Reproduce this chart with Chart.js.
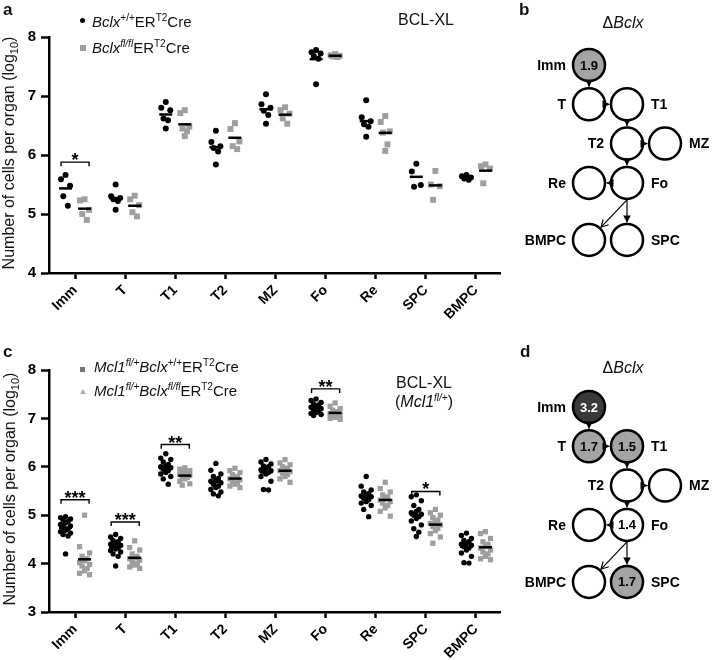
<!DOCTYPE html>
<html><head><meta charset="utf-8">
<script src="https://cdn.jsdelivr.net/npm/chart.js@4.4.1/dist/chart.umd.min.js"></script>
<style>
html,body{margin:0;padding:0;background:#fff;}
#wrap{position:relative;width:714px;height:660px;overflow:hidden;font-family:"Liberation Sans",Arial,sans-serif;color:#111;}
canvas{position:absolute;}
.t{position:absolute;white-space:nowrap;line-height:1;}
.sup{font-size:10px;position:relative;top:-6px;}
.sub{font-size:11px;position:relative;top:4px;}
.lbl{font-weight:bold;font-size:17px;}
.mk{position:absolute;}
</style></head>
<body><div id="wrap">
<canvas id="cA" width="520" height="320" style="left:0;top:0"></canvas>
<canvas id="cC" width="520" height="340" style="left:0;top:320px"></canvas>
<canvas id="cB" width="199" height="318" style="left:515px;top:0"></canvas>
<canvas id="cD" width="199" height="318" style="left:515px;top:342px"></canvas>

<div class="t lbl" style="left:3px;top:1px">a</div>
<div class="t lbl" style="left:519px;top:1px">b</div>
<div class="t lbl" style="left:3px;top:343px">c</div>
<div class="t lbl" style="left:520px;top:343px">d</div>

<div class="t" style="left:9px;top:153px;font-size:16px;transform:translate(-50%,-50%) rotate(-90deg)">Number of cells per organ (log<span class="sub">10</span>)</div>
<div class="t" style="left:10px;top:489px;font-size:16px;transform:translate(-50%,-50%) rotate(-90deg)">Number of cells per organ (log<span class="sub">10</span>)</div>

<div class="mk" style="left:80px;top:18px;width:5px;height:5px;border-radius:50%;background:#000"></div>
<div class="t" style="left:92px;top:14px;font-size:15px"><i>Bclx</i><span class="sup">+/+</span>ER<span class="sup">T2</span>Cre</div>
<div class="mk" style="left:80px;top:45px;width:6px;height:6px;background:#9e9e9e"></div>
<div class="t" style="left:92px;top:40px;font-size:15px"><i>Bclx</i><span class="sup"><i>fl/fl</i></span>ER<span class="sup">T2</span>Cre</div>
<div class="t" style="left:426px;top:12px;font-size:16px;transform:translateX(-50%)">BCL-XL</div>

<div class="mk" style="left:80px;top:367px;width:5px;height:5px;background:#777"></div>
<div class="t" style="left:94px;top:359px;font-size:15px"><i>Mcl1</i><span class="sup"><i>fl/+</i></span><i>Bclx</i><span class="sup">+/+</span>ER<span class="sup">T2</span>Cre</div>
<div class="mk" style="left:80px;top:389px;width:0;height:0;border-left:3px solid transparent;border-right:3px solid transparent;border-bottom:5px solid #b0b0b0"></div>
<div class="t" style="left:94px;top:383px;font-size:15px"><i>Mcl1</i><span class="sup"><i>fl/+</i></span><i>Bclx</i><span class="sup"><i>fl/fl</i></span>ER<span class="sup">T2</span>Cre</div>
<div class="t" style="left:424px;top:375px;font-size:16px;transform:translateX(-50%)">BCL-XL</div>
<div class="t" style="left:424px;top:394px;font-size:16px;transform:translateX(-50%)">(<i>Mcl1</i><span class="sup"><i>fl/+</i></span>)</div>

<div class="t" style="left:623px;top:15px;font-size:16px;transform:translateX(-50%)">&Delta;<i>Bclx</i></div>
<div class="t" style="left:623px;top:360px;font-size:16px;transform:translateX(-50%)">&Delta;<i>Bclx</i></div>
</div>
<script>
// ---------- DATA ----------
const categories = ['Imm','T','T1','T2','MZ','Fo','Re','SPC','BMPC'];
const yTicksA = [4,5,6,7,8];
const yTicksC = [3,4,5,6,7,8];

// panel a: Bclx+/+ ERT2Cre (black dots)
const aControl = [
  [5.66,5.59,5.48,5.30,5.14],
  [5.50,5.30,5.27,5.25,5.22,5.07],
  [6.90,6.80,6.76,6.62,6.59,6.45],
  [6.41,6.22,6.15,6.12,6.06,5.84],
  [7.03,6.86,6.80,6.75,6.68,6.53],
  [7.78,7.74,7.72,7.68,7.63,7.20],
  [6.93,6.64,6.57,6.52,6.48,6.31],
  [5.85,5.72,5.49,5.46],
  [5.66,5.64,5.62,5.60,5.58]
];
// panel a: Bclx fl/fl ERT2Cre (grey squares)
const aDeleted = [
  [5.25,5.23,5.07,5.00,4.90],
  [5.31,5.25,5.15,5.03,4.96],
  [6.76,6.71,6.48,6.45,6.40,6.32],
  [6.54,6.44,6.23,6.15,6.10],
  [6.81,6.76,6.70,6.62,6.53],
  [7.71,7.69,7.68,7.67,7.66],
  [6.66,6.56,6.40,6.38,6.18,6.07],
  [5.73,5.50,5.47,5.24],
  [5.84,5.81,5.77,5.52]
];
// panel c: Mcl1 fl/+ Bclx +/+ (black dots)
const cControl = [
  [4.97,4.95,4.92,4.90,4.87,4.84,4.81,4.78,4.75,4.72,4.69,4.66,4.63,4.60,4.57,4.20],
  [4.60,4.55,4.52,4.48,4.45,4.42,4.40,4.38,4.35,4.33,4.30,4.27,4.24,4.20,4.15,3.95],
  [6.27,6.18,6.15,6.10,6.05,6.02,6.00,5.98,5.95,5.92,5.88,5.85,5.80,5.75,5.64],
  [6.07,5.93,5.85,5.80,5.76,5.72,5.70,5.67,5.64,5.60,5.57,5.53,5.48,5.44,5.40],
  [6.15,6.10,6.06,6.02,6.00,5.97,5.94,5.92,5.90,5.88,5.85,5.80,5.70,5.53,5.52],
  [7.40,7.37,7.33,7.30,7.28,7.25,7.23,7.20,7.18,7.15,7.12,7.10,7.08,7.06],
  [5.80,5.60,5.52,5.48,5.45,5.42,5.40,5.38,5.35,5.32,5.28,5.25,5.20,5.12,4.97],
  [5.42,5.38,5.30,5.20,5.12,5.08,5.05,5.02,5.00,4.97,4.93,4.88,4.80,4.72,4.65,4.56],
  [4.63,4.58,4.52,4.48,4.45,4.42,4.40,4.38,4.35,4.32,4.28,4.22,4.15,4.02,4.01]
];
// panel c: Mcl1 fl/+ Bclx fl/fl (grey squares)
const cDeleted = [
  [5.00,4.35,4.22,4.15,4.10,4.06,4.02,3.98,3.95,3.90,3.85,3.80,3.77],
  [4.47,4.33,4.28,4.20,4.15,4.12,4.10,4.07,4.03,4.00,3.97,3.93,3.90],
  [5.98,5.95,5.92,5.90,5.88,5.86,5.84,5.82,5.80,5.78,5.75,5.70,5.65,5.62],
  [5.97,5.92,5.88,5.84,5.80,5.77,5.75,5.73,5.70,5.67,5.64,5.60,5.57],
  [6.15,6.08,6.04,6.00,5.97,5.94,5.92,5.90,5.87,5.84,5.80,5.75,5.68],
  [7.32,7.25,7.20,7.17,7.14,7.12,7.10,7.08,7.06,7.04,7.02,7.00,6.98],
  [5.68,5.55,5.48,5.42,5.38,5.34,5.31,5.28,5.25,5.20,5.15,5.08,4.98],
  [5.12,5.05,5.00,4.95,4.90,4.86,4.83,4.80,4.77,4.73,4.68,4.62,4.55,4.42],
  [4.66,4.62,4.52,4.45,4.40,4.36,4.32,4.28,4.24,4.20,4.15,4.10,4.08]
];
// significance brackets: category index, bracket level (log10), stars
const sigCatsA = [0];
const sigLevelsA = [5.88];
const sigStarsA = ['*'];
const sigCatsC = [0,1,2,5,7];
const sigLevelsC = [5.32,4.86,6.46,7.61,5.49];
const sigStarsC = ['***','***','**','**','*'];

// diagrams
const nodeNames = ['Imm','T','T1','T2','MZ','Re','Fo','BMPC','SPC'];
const nodeCol = [0,0,1,1,2,0,1,0,1];
const nodeRow = [0,1,1,2,2,3,3,4.45,4.45];
const nodeSide = ['L','L','R','L','R','L','R','L','R'];
const edges = [[0,1],[1,2],[2,3],[3,4],[3,6],[6,5],[6,7],[6,8]];
const foldB = [1.9,null,null,null,null,null,null,null,null];
const foldD = [3.2,1.7,1.5,null,null,null,1.4,null,1.7];

// ---------- DRAWING ----------
const FONT = '"Liberation Sans", Arial, sans-serif';
Chart.defaults.font.family = FONT;
Chart.defaults.color = '#000';

function jitter(vals, center, spread){
  const order = vals.map((v,i)=>i).sort((p,q)=>vals[q]-vals[p]);
  const pattern = [0,-1,1,-0.5,0.5];
  const xs = new Array(vals.length);
  order.forEach((idx,k)=>{ xs[idx] = center + pattern[k % pattern.length]*spread; });
  return vals.map((v,i)=>({x:xs[i], y:v}));
}
const mean = a => a.reduce((s,v)=>s+v,0)/a.length;

function sigPlugin(cats, levels, stars){
  return {id:'sig', afterDatasetsDraw(chart){
    const {ctx, scales:{x,y}} = chart;
    ctx.save();
    ctx.fillStyle = '#000';
    ctx.font = 'bold 18px ' + FONT;
    ctx.textAlign = 'center';
    ctx.textBaseline = 'alphabetic';
    cats.forEach((c,i)=>{
      ctx.fillText(stars[i], x.getPixelForValue(c), y.getPixelForValue(levels[i]) + 4);
    });
    ctx.restore();
  }};
}

function dotPlot(id, ctrl, del, yTicks, sigCats, sigLevels, sigStars, opt){
  const off = 0.19;
  const black = [], grey = [], means = [];
  categories.forEach((c,i)=>{
    black.push(...jitter(ctrl[i], i-off, opt.spread));
    grey.push(...jitter(del[i], i+off, opt.spread));
    means.push({x:i-off, y:mean(ctrl[i])});
    means.push({x:i+off, y:mean(del[i])});
  });
  const datasets = [
    {data:means, pointStyle:'line', pointRadius:6.5, pointBorderWidth:2.5, pointBorderColor:'#000', order:0},
    {data:black, pointStyle:'circle', pointRadius:opt.dotR, pointBackgroundColor:'#000', pointBorderWidth:0, order:3},
    {data:grey, pointStyle:'rect', pointRadius:opt.sqR, pointBackgroundColor:'#9e9e9e', pointBorderWidth:0, order:2}
  ];
  sigCats.forEach((c,i)=>{
    const L = sigLevels[i], t = opt.tick;
    datasets.push({data:[{x:c-0.28,y:L-t},{x:c-0.28,y:L},{x:c+0.28,y:L},{x:c+0.28,y:L-t}],
      showLine:true, borderColor:'#000', borderWidth:1.4, pointRadius:0, order:1});
  });
  return new Chart(document.getElementById(id), {
    type:'scatter',
    data:{datasets},
    options:{
      responsive:false, animation:false, events:[],
      layout:{autoPadding:false, padding:{top:opt.top, right:20, left:0, bottom:0}},
      plugins:{legend:{display:false}, tooltip:{enabled:false}},
      scales:{
        x:{type:'linear', min:-0.52, max:8.48,
          afterBuildTicks:s=>{ s.ticks = categories.map((c,i)=>({value:i})); },
          ticks:{autoSkip:false, maxRotation:45, minRotation:45, padding:3, color:'#000',
            font:{size:14, weight:'bold'}, callback:v=>categories[Math.round(v)]},
          grid:{drawOnChartArea:false, drawTicks:true, tickLength:6, tickWidth:2.5, tickColor:'#000'},
          border:{display:true, color:'#000', width:2.5},
          afterFit:s=>{ s.height = opt.xh; }},
        y:{type:'linear', min:yTicks[0], max:yTicks[yTicks.length-1],
          afterBuildTicks:s=>{ s.ticks = yTicks.map(v=>({value:v})); },
          ticks:{padding:5, color:'#000', font:{size:15, weight:'bold'}},
          grid:{drawOnChartArea:false, drawTicks:true, tickLength:8, tickWidth:2.5, tickColor:'#000'},
          border:{display:true, color:'#000', width:2.5},
          afterFit:s=>{ s.width = 49; }}
      }
    },
    plugins:[sigPlugin(sigCats, sigLevels, sigStars)]
  });
}

dotPlot('cA', aControl, aDeleted, yTicksA, sigCatsA, sigLevelsA, sigStarsA,
  {top:37, xh:47, spread:0.09, dotR:3, sqR:4.2, tick:0.07});
dotPlot('cC', cControl, cDeleted, yTicksC, sigCatsC, sigLevelsC, sigStarsC,
  {top:50, xh:48, spread:0.1, dotR:2.7, sqR:3.7, tick:0.085});

function fillFor(v){
  if (v == null) return '#ffffff';
  if (v >= 3) return '#3a3a3a';
  if (v >= 1.5) return '#a4a4a4';
  return '#ffffff';
}

function diagramPlugin(vals){
  return {id:'diag', afterDatasetsDraw(chart){
    const ctx = chart.ctx;
    const pts = chart.getDatasetMeta(0).data;
    const r = 16;
    ctx.save();
    ctx.strokeStyle = '#000'; ctx.fillStyle = '#000'; ctx.lineWidth = 1.2;
    edges.forEach(([a,b])=>{
      const A = pts[a], B = pts[b];
      const diag = nodeCol[a] !== nodeCol[b] && nodeRow[a] !== nodeRow[b];
      const skip = nodeRow[b] - nodeRow[a] > 1.2;
      let sx, sy;
      if (diag || skip){ sx = A.x; sy = A.y + r + 1; }
      else {
        const d = Math.hypot(B.x-A.x, B.y-A.y);
        sx = A.x + (B.x-A.x)/d*(r+1); sy = A.y + (B.y-A.y)/d*(r+1);
      }
      const dx = B.x - sx, dy = B.y - sy, L = Math.hypot(dx,dy);
      const ux = dx/L, uy = dy/L;
      const ex = B.x - ux*(r+1.5), ey = B.y - uy*(r+1.5);
      ctx.beginPath(); ctx.moveTo(sx,sy); ctx.lineTo(ex,ey); ctx.stroke();
      const bx = ex - ux*7, by = ey - uy*7, px = -uy*3.8, py = ux*3.8;
      ctx.beginPath();
      if (diag){
        ctx.moveTo(bx+px, by+py); ctx.lineTo(ex,ey); ctx.lineTo(bx-px, by-py); ctx.stroke();
      } else {
        ctx.moveTo(ex,ey); ctx.lineTo(bx+px,by+py); ctx.lineTo(bx-px,by-py); ctx.closePath(); ctx.fill();
      }
    });
    ctx.textBaseline = 'middle';
    pts.forEach((p,i)=>{
      ctx.font = 'bold 14px ' + FONT;
      ctx.fillStyle = '#000';
      if (nodeSide[i] === 'L'){ ctx.textAlign = 'right'; ctx.fillText(nodeNames[i], p.x - r - 7, p.y + 1); }
      else { ctx.textAlign = 'left'; ctx.fillText(nodeNames[i], p.x + r + 8, p.y + 1); }
      if (vals[i] != null){
        ctx.font = 'bold 13px ' + FONT;
        ctx.textAlign = 'center';
        ctx.fillStyle = vals[i] >= 3 ? '#fff' : '#000';
        ctx.fillText(vals[i].toFixed(1), p.x, p.y + 1);
      }
    });
    ctx.restore();
  }};
}

function diagram(id, vals){
  const pts = nodeNames.map((n,i)=>({x:nodeCol[i], y:nodeRow[i]}));
  return new Chart(document.getElementById(id), {
    type:'scatter',
    data:{datasets:[{data:pts, pointRadius:16, pointBorderWidth:2.5, pointBorderColor:'#000',
      pointBackgroundColor:vals.map(fillFor)}]},
    options:{responsive:false, animation:false, events:[], layout:{autoPadding:false, padding:0},
      plugins:{legend:{display:false}, tooltip:{enabled:false}},
      scales:{x:{display:false, min:-1.9474, max:3.2895},
              y:{display:false, reverse:true, min:-1.654, max:6.4377}}},
    plugins:[diagramPlugin(vals)]
  });
}
diagram('cB', foldB);
diagram('cD', foldD);
</script>
</body></html>
